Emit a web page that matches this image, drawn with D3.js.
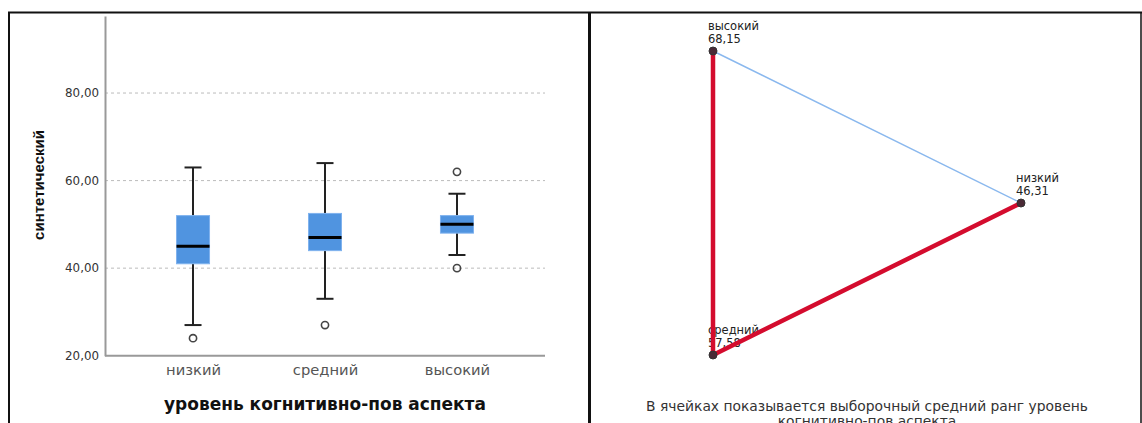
<!DOCTYPE html>
<html><head><meta charset="utf-8">
<script src="https://cdn.jsdelivr.net/npm/d3@7"></script>
<style>body{margin:0;background:#fff;}svg{display:block;font-family:Arial,"Liberation Sans",sans-serif;}</style>
</head><body>
<svg id="c" width="1142" height="423"></svg>
<script>
// ---- Data ----
const categories = ["низкий", "средний", "высокий"];
const whiskerLow  = [27, 33, 43];
const q1          = [41, 44, 48];
const medians     = [45, 47, 50];
const q3          = [52, 52.5, 52];
const whiskerHigh = [63, 64, 57];
const outliers    = [[24], [27], [62, 40]];
const yTicks = [20, 40, 60, 80];
const yTickLabels = ["20,00", "40,00", "60,00", "80,00"];
const yTitle = "синтетический";
const xTitle = "уровень когнитивно-пов аспекта";

const nodeNames = ["высокий", "низкий", "средний"];
const nodeRanks = ["68,15", "46,31", "57,58"];
const nodeX = [0, 1, 0];
const nodeY = [1, 0.5, 0];
const edgesFrom = [0, 2, 0];
const edgesTo   = [2, 1, 1];
const edgesSignificant = [true, true, false];
const caption = ["В ячейках показывается выборочный средний ранг уровень", "когнитивно-пов аспекта"];

const svg = d3.select("#c");
const WIDE = "'DejaVu Sans', Verdana, sans-serif";

// scale a text's font size so that its rendered width equals target
function fit(sel, target) {
  const n = sel.node();
  const fs = parseFloat(sel.attr("font-size"));
  const w = n.getComputedTextLength();
  if (w > 0) sel.attr("font-size", (fs * target / w).toFixed(2));
  return parseFloat(sel.attr("font-size"));
}

// ---- Frames ----
svg.append("line").attr("x1", 8).attr("x2", 1142).attr("y1", 12.5).attr("y2", 12.5).attr("stroke", "#111").attr("stroke-width", 2.2);
svg.append("line").attr("x1", 9).attr("x2", 9).attr("y1", 12).attr("y2", 423).attr("stroke", "#111").attr("stroke-width", 2);
svg.append("line").attr("x1", 589.5).attr("x2", 589.5).attr("y1", 12).attr("y2", 423).attr("stroke", "#111").attr("stroke-width", 3);
svg.append("line").attr("x1", 1141).attr("x2", 1141).attr("y1", 12).attr("y2", 423).attr("stroke", "#111").attr("stroke-width", 1.5);

// ---- Boxplot ----
const x = d3.scalePoint().domain(categories).range([105, 545]).padding(0.667);
const y = d3.scaleLinear().domain([20, 97.6]).range([355.7, 16]);

const g = svg.append("g");
g.selectAll(".grid").data(yTicks.filter(d => d > 20)).enter().append("line")
  .attr("x1", 105).attr("x2", 545).attr("y1", d => y(d)).attr("y2", d => y(d))
  .attr("stroke", "#bbb").attr("stroke-width", 1).attr("stroke-dasharray", "3,3");

// y axis
const yAxis = d3.axisLeft(y).tickValues(yTicks).tickFormat((d, i) => yTickLabels[i]).tickSize(0).tickPadding(6);
const ya = g.append("g").attr("transform", "translate(105,0)").call(yAxis);
ya.select(".domain").attr("stroke", "#999").attr("stroke-width", 2);
ya.selectAll("text").attr("font-size", 11.5).attr("fill", "#333").attr("font-family", WIDE);
{
  const t0 = ya.select(".tick text");
  const fs = fit(t0, 34);
  ya.selectAll("text").attr("font-size", fs);
}

// x axis
const xAxis = d3.axisBottom(x).tickSize(0).tickPadding(9);
const xa = g.append("g").attr("transform", "translate(0,355.7)").call(xAxis);
xa.select(".domain").attr("stroke", "#999").attr("stroke-width", 2).attr("d", "M105,0H545");
xa.selectAll("text").attr("font-size", 15).attr("fill", "#555").attr("font-family", WIDE);
{
  const t0 = xa.select(".tick text");
  const fs = fit(t0, 55);
  xa.selectAll("text").attr("font-size", fs);
}

// titles
g.append("text").attr("transform", "translate(44,185) rotate(-90)").attr("text-anchor", "middle")
  .attr("font-size", 15).attr("font-weight", "bold").attr("fill", "#111").text(yTitle);
const xt = g.append("text").attr("x", 325).attr("y", 410).attr("text-anchor", "middle")
  .attr("font-size", 16).attr("font-weight", "bold").attr("fill", "#111").attr("font-family", WIDE).text(xTitle);
fit(xt, 322);

const boxW = 33, capW = 17;
categories.forEach((c, i) => {
  const cx = x(c);
  g.append("line").attr("x1", cx).attr("x2", cx).attr("y1", y(whiskerLow[i])).attr("y2", y(q1[i])).attr("stroke", "#222").attr("stroke-width", 2);
  g.append("line").attr("x1", cx).attr("x2", cx).attr("y1", y(q3[i])).attr("y2", y(whiskerHigh[i])).attr("stroke", "#222").attr("stroke-width", 2);
  g.append("line").attr("x1", cx - capW / 2).attr("x2", cx + capW / 2).attr("y1", y(whiskerLow[i])).attr("y2", y(whiskerLow[i])).attr("stroke", "#222").attr("stroke-width", 2);
  g.append("line").attr("x1", cx - capW / 2).attr("x2", cx + capW / 2).attr("y1", y(whiskerHigh[i])).attr("y2", y(whiskerHigh[i])).attr("stroke", "#222").attr("stroke-width", 2);
  g.append("rect").attr("x", cx - boxW / 2).attr("width", boxW).attr("y", y(q3[i])).attr("height", y(q1[i]) - y(q3[i]))
    .attr("fill", "#5094e0").attr("stroke", "#7fb2ee").attr("stroke-width", 1);
  g.append("line").attr("x1", cx - boxW / 2).attr("x2", cx + boxW / 2).attr("y1", y(medians[i])).attr("y2", y(medians[i])).attr("stroke", "#000").attr("stroke-width", 3);
  outliers[i].forEach(o => {
    g.append("circle").attr("cx", cx).attr("cy", y(o)).attr("r", 3.6).attr("fill", "none").attr("stroke", "#444").attr("stroke-width", 1.6);
  });
});

// ---- Network ----
const nx = d3.scaleLinear().domain([0, 1]).range([713, 1021]);
const ny = d3.scaleLinear().domain([0, 1]).range([355, 51]);
const ng = svg.append("g");
let labelFs = null;
nodeNames.forEach((n, i) => {
  const a = ng.append("text").attr("x", nx(nodeX[i]) - 5).attr("y", ny(nodeY[i]) - 21).attr("font-size", 11).attr("fill", "#222").attr("font-family", WIDE).text(n);
  if (i === 0) labelFs = fit(a, 51);
  a.attr("font-size", labelFs);
  ng.append("text").attr("x", nx(nodeX[i]) - 5).attr("y", ny(nodeY[i]) - 8).attr("font-size", labelFs).attr("fill", "#222").attr("font-family", WIDE).text(nodeRanks[i]);
});
edgesFrom.forEach((f, k) => {
  const t = edgesTo[k];
  ng.append("line").attr("x1", nx(nodeX[f])).attr("y1", ny(nodeY[f])).attr("x2", nx(nodeX[t])).attr("y2", ny(nodeY[t]))
    .attr("stroke", edgesSignificant[k] ? "#d40c2e" : "#8ab8ee")
    .attr("stroke-width", edgesSignificant[k] ? 4.5 : 1.5)
    .attr("stroke-linecap", "round");
});
nodeNames.forEach((n, i) => {
  ng.append("circle").attr("cx", nx(nodeX[i])).attr("cy", ny(nodeY[i])).attr("r", 4).attr("fill", "#4a2a36").attr("stroke", "#333").attr("stroke-width", 1);
});
let capFs = null;
caption.forEach((line, i) => {
  const t = ng.append("text").attr("x", 867).attr("y", 411 + i * 14.5).attr("text-anchor", "middle")
    .attr("font-size", 13).attr("fill", "#333").attr("font-family", WIDE).text(line);
  if (i === 0) capFs = fit(t, 442);
  t.attr("font-size", capFs);
});
</script>
</body></html>
